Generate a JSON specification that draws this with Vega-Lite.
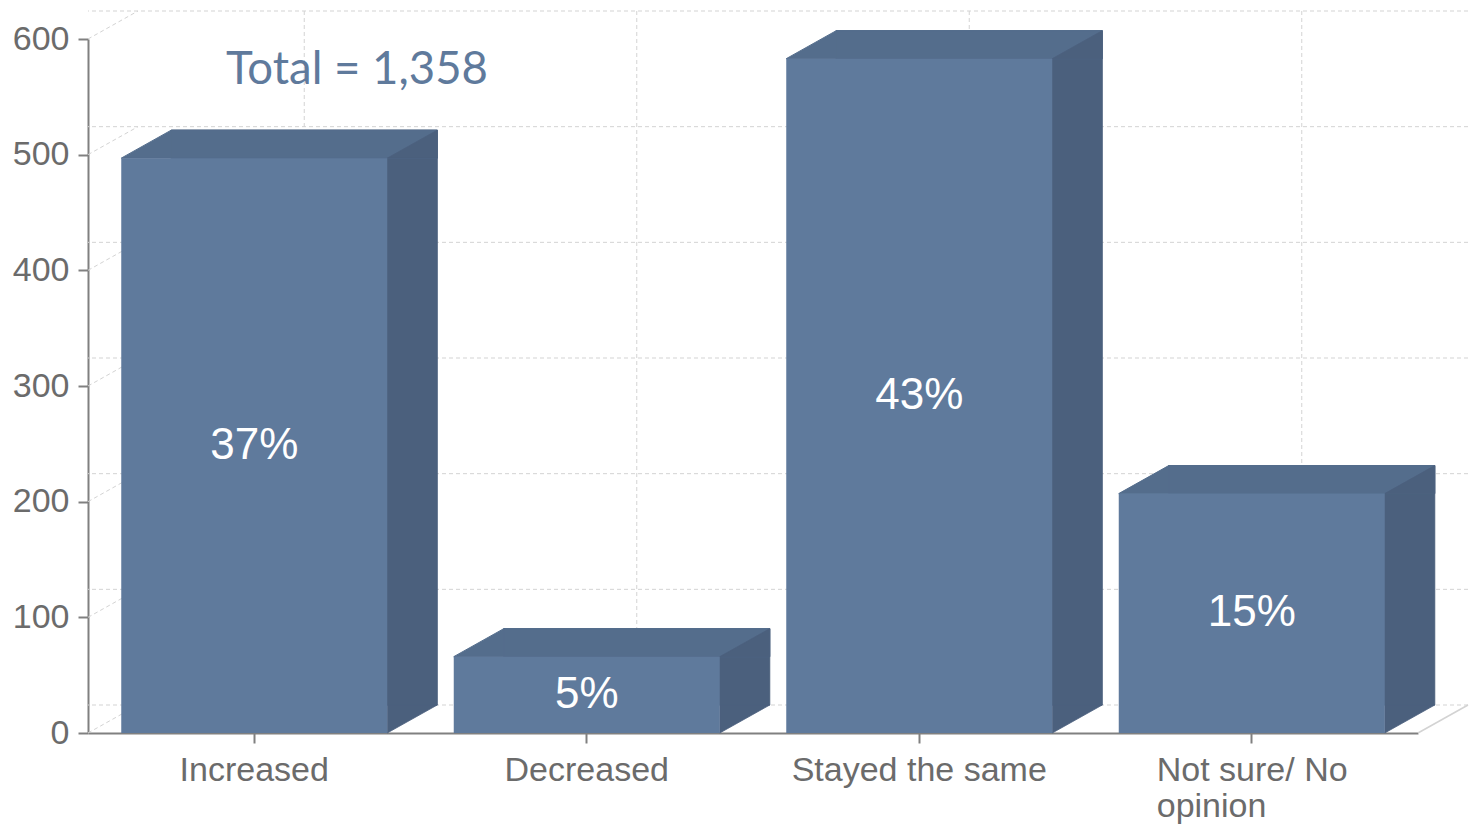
{
  "$schema": "https://vega.github.io/schema/vega-lite/v6.json",
  "width": 1330,
  "height": 694,
  "autosize": {"type": "none"},
  "padding": {"left": 88, "top": 39, "right": 58, "bottom": 94},
  "background": "white",
  "config": {
    "view": {"stroke": null},
    "font": "Liberation Sans",
    "axisX": {
      "domainColor": "#808080", "domainWidth": 2, "tickColor": "#808080", "tickWidth": 2, "tickSize": 10,
      "labelFontSize": 34, "labelColor": "#6b6b6b", "labelPadding": 10, "labelAngle": 0, "labelLimit": 0,
      "labelLineHeight": 36, "grid": false, "zindex": 1
    },
    "axisY": {
      "domainColor": "#808080", "domainWidth": 2, "tickColor": "#808080", "tickWidth": 2, "tickSize": 10,
      "labelFontSize": 34, "labelColor": "#6b6b6b", "labelPadding": 9, "grid": false, "zindex": 1
    }
  },
  "datasets": {
    "bars": [
      {"answer": "Increased", "count": 497, "pct": "37%"},
      {"answer": "Decreased", "count": 66, "pct": "5%"},
      {"answer": "Stayed the same", "count": 583, "pct": "43%"},
      {"answer": "Not sure/ No opinion", "count": 207, "pct": "15%"}
    ],
    "ticks": [{"tick": 0}, {"tick": 100}, {"tick": 200}, {"tick": 300}, {"tick": 400}, {"tick": 500}, {"tick": 600}]
  },
  "resolve": {"scale": {"y": "independent"}},
  "layer": [
    {
      "data": {"name": "ticks"},
      "mark": {"type": "rule", "color": "#d3d3d3", "strokeWidth": 1, "strokeDash": [4, 3], "xOffset": 50, "x2Offset": 50, "yOffset": -28},
      "encoding": {
        "y": {"field": "tick", "type": "quantitative", "scale": {"domain": [0, 600], "nice": false}, "axis": null}
      }
    },
    {
      "data": {"name": "bars"},
      "mark": {"type": "rule", "color": "#d3d3d3", "strokeWidth": 1, "strokeDash": [4, 3], "xOffset": 50, "yOffset": -28, "y2Offset": -28},
      "encoding": {
        "x": {"field": "answer", "type": "nominal", "title": null,
              "scale": {"domain": ["Increased", "Decreased", "Stayed the same", "Not sure/ No opinion"], "paddingInner": 0.2, "paddingOuter": 0.1}},
        "y": {"datum": 600, "type": "quantitative", "scale": {"domain": [0, 600], "nice": false}, "axis": null},
        "y2": {"datum": 0}
      }
    },
    {
      "data": {"name": "ticks"},
      "mark": {"type": "point", "shape": "M0,0L50,-28", "size": 4, "filled": false, "stroke": "#d3d3d3", "strokeWidth": 1, "strokeDash": [4, 3], "opacity": 1, "xOffset": -33.25},
      "encoding": {
        "x": {"datum": "Increased", "type": "nominal", "bandPosition": 0, "title": null},
        "y": {"field": "tick", "type": "quantitative", "scale": {"domain": [0, 600], "nice": false}, "axis": null}
      }
    },
    {
      "data": {"values": [{}]},
      "mark": {"type": "point", "shape": "M0,0L50,-28", "size": 4, "filled": false, "stroke": "#d3d3d3", "strokeWidth": 1.5, "opacity": 1, "xOffset": 33.25},
      "encoding": {
        "x": {"datum": "Not sure/ No opinion", "type": "nominal", "bandPosition": 1, "title": null},
        "y": {"datum": 0, "type": "quantitative", "scale": {"domain": [0, 600], "nice": false}, "axis": null}
      }
    },
    {
      "data": {"name": "bars"},
      "mark": {"type": "bar", "color": "#4b607d", "stroke": "#4b607d", "strokeWidth": 1, "xOffset": 50, "yOffset": -28, "y2Offset": -28},
      "encoding": {
        "x": {"field": "answer", "type": "nominal", "title": null},
        "y": {"field": "count", "type": "quantitative", "scale": {"domain": [0, 600], "nice": false}, "axis": null},
        "y2": {"datum": 0}
      }
    },
    {
      "data": {"name": "bars"},
      "mark": {"type": "bar", "color": "#546d8c", "stroke": "#546d8c", "strokeWidth": 1, "xOffset": 50, "yOffset": -28, "y2Offset": 0},
      "encoding": {
        "x": {"field": "answer", "type": "nominal", "title": null},
        "y": {"field": "count", "type": "quantitative", "scale": {"domain": [0, 600], "nice": false}, "axis": null},
        "y2": {"field": "count"}
      }
    },
    {
      "data": {"name": "bars"},
      "mark": {"type": "point", "shape": "M0,0L50,-28L50,0Z", "size": 4, "filled": true, "fill": "#546d8c", "stroke": "#546d8c", "strokeWidth": 1, "opacity": 1},
      "encoding": {
        "x": {"field": "answer", "type": "nominal", "bandPosition": 0, "title": null},
        "y": {"field": "count", "type": "quantitative", "scale": {"domain": [0, 600], "nice": false}, "axis": null}
      }
    },
    {
      "data": {"name": "bars"},
      "mark": {"type": "point", "shape": "M0,0L50,-28L50,0Z", "size": 4, "filled": true, "fill": "#4b607d", "stroke": "#4b607d", "strokeWidth": 0.8, "opacity": 1},
      "encoding": {
        "x": {"field": "answer", "type": "nominal", "bandPosition": 1, "title": null},
        "y": {"field": "count", "type": "quantitative", "scale": {"domain": [0, 600], "nice": false}, "axis": null}
      }
    },
    {
      "data": {"name": "bars"},
      "mark": {"type": "point", "shape": "M0,0L0,-28L50,-28Z", "size": 4, "filled": true, "fill": "#4b607d", "stroke": "#4b607d", "strokeWidth": 0.8, "opacity": 1},
      "encoding": {
        "x": {"field": "answer", "type": "nominal", "bandPosition": 1, "title": null},
        "y": {"datum": 0, "type": "quantitative", "scale": {"domain": [0, 600], "nice": false}, "axis": null}
      }
    },
    {
      "data": {"name": "bars"},
      "mark": {"type": "bar", "color": "#5f7a9c"},
      "encoding": {
        "x": {
          "field": "answer", "type": "nominal", "title": null,
          "axis": {
            "labelExpr": "datum.value == 'Not sure/ No opinion' ? ['Not sure/ No', 'opinion'] : datum.label",
            "labelAlign": {"condition": {"test": "datum.value == 'Not sure/ No opinion'", "value": "left"}, "value": "center"},
            "labelOffset": {"condition": {"test": "datum.value == 'Not sure/ No opinion'", "value": -95}, "value": 0}
          }
        },
        "y": {"field": "count", "type": "quantitative", "title": null, "scale": {"domain": [0, 600], "nice": false},
              "axis": {"values": [0, 100, 200, 300, 400, 500, 600], "labelOverlap": false}}
      }
    },
    {
      "data": {"values": [{}]},
      "mark": {"type": "text", "text": "Total = 1,358", "font": "Lato", "fontSize": 45.5, "color": "#5f7a9c", "align": "left", "baseline": "alphabetic"},
      "encoding": {
        "x": {"datum": "Increased", "type": "nominal", "bandPosition": 0.394, "title": null},
        "y": {"datum": 561, "type": "quantitative", "scale": {"domain": [0, 600], "nice": false}, "axis": null}
      }
    },
    {
      "data": {"name": "bars"},
      "mark": {"type": "text", "color": "white", "fontSize": 44, "baseline": "middle", "align": "center"},
      "encoding": {
        "x": {"field": "answer", "type": "nominal", "title": null},
        "y": {"field": "count", "type": "quantitative", "scale": {"domain": [0, 1200], "nice": false}, "axis": null},
        "text": {"field": "pct"}
      }
    }
  ]
}
